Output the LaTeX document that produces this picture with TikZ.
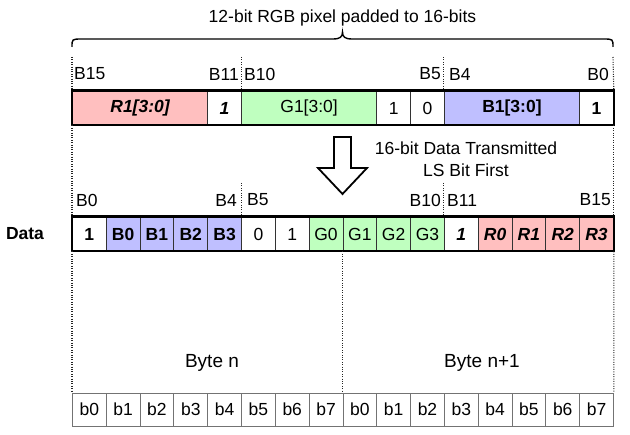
\documentclass[tikz,border=0pt]{standalone}
\usepackage{fontspec}
\setmainfont{Liberation Sans}
\definecolor{pnk}{RGB}{255,191,191}
\definecolor{grn}{RGB}{191,255,191}
\definecolor{blu}{RGB}{191,191,255}
\begin{document}
\fontsize{17.5}{22}\selectfont
\begin{tikzpicture}[x=1pt,y=-1pt,
  cell/.style={draw=black!80, line width=0.8pt, minimum height=34pt, minimum width=33.8125pt, inner sep=0pt, anchor=west},
  bcell/.style={draw=black!55, line width=0.9pt, minimum height=33pt, minimum width=33.8125pt, inner sep=0pt, anchor=west},
  lbl/.style={inner sep=0pt},
  frame/.style={draw=black, line width=2.2pt},
  guide/.style={draw=black!85, line width=1.1pt, dash pattern=on 1pt off 1.4pt},
  bi/.style={font=\bfseries\itshape},
  bf/.style={font=\bfseries}]
\useasboundingbox (0,0) rectangle (630,435);

% title and brace
\node[lbl] (title) at (342.5,17.5) {12-bit RGB pixel padded to 16-bits};
\coordinate (brL) at (72,47);
\coordinate (brT) at (342.5,32);
\coordinate (brR) at (613,47);
\draw[line width=1.4pt] (brL) .. controls (72,39) and (72,39) .. (82,39) -- (333,39)
  .. controls (340,39) and (342.5,37) .. (brT)
  .. controls (342.5,37) and (345,39) .. (352,39) -- (603,39)
  .. controls (613,39) and (613,39) .. (brR);

% top row
\node[cell, fill=pnk, minimum width=135.25pt, bi] (t0) at (72,108) {R1[3:0]};
\node[cell, bi] (t1) at (207.25,108) {1};
\node[cell, fill=grn, minimum width=135.25pt] (t2) at (241.0625,108) {G1[3:0]};
\node[cell] (t3) at (376.3125,108) {1};
\node[cell] (t4) at (410.125,108) {0};
\node[cell, fill=blu, minimum width=135.25pt, bf] (t5) at (443.9375,108) {B1[3:0]};
\node[cell, bf] (t6) at (579.1875,108) {1};
\draw[frame] (t0.north west) rectangle (t6.south east);

% top labels
\node[lbl, anchor=west] (l15) at (74,74) {B15};
\node[lbl, anchor=east] (l11) at (239,74) {B11};
\node[lbl, anchor=west] (l10) at (244,74) {B10};
\node[lbl, anchor=east] (l5) at (441,74) {B5};
\node[lbl, anchor=west] (l4) at (449,74) {B4};
\node[lbl, anchor=east] (l0) at (609,74) {B0};

% arrow and caption
\draw[line width=1.8pt, fill=white, line join=miter] (334,137) -- (351,137) -- (351,168) -- (367,168) -- (342.5,194) -- (318,168) -- (334,168) -- cycle;
\node[lbl, align=center] (cap) at (466,159) {16-bit Data Transmitted\\LS Bit First};

% data row
\node[lbl, bf] (dlab) at (25,234) {Data};
\foreach \t/\c/\f [count=\i from 0] in
  {1/white/\bfseries, B0/blu/\bfseries, B1/blu/\bfseries, B2/blu/\bfseries, B3/blu/\bfseries,
   0/white/\mdseries, 1/white/\mdseries, G0/grn/\mdseries, G1/grn/\mdseries, G2/grn/\mdseries, G3/grn/\mdseries,
   1/white/\bfseries\itshape, R0/pnk/\bfseries\itshape, R1/pnk/\bfseries\itshape, R2/pnk/\bfseries\itshape, R3/pnk/\bfseries\itshape}
  \node[cell, fill=\c, font=\f] (d\i) at ({72+\i*33.8125},234) {\t};
\draw[frame] (d0.north west) rectangle (d15.south east);

% data labels
\node[lbl, anchor=west] (m0) at (76,200) {B0};
\node[lbl, anchor=east] (m4) at (237,200) {B4};
\node[lbl, anchor=west] (m5) at (247,200) {B5};
\node[lbl, anchor=east] (m10) at (441,200) {B10};
\node[lbl, anchor=west] (m11) at (447,200) {B11};
\node[lbl, anchor=east] (m15) at (611,200) {B15};

% bottom row
\foreach \i in {0,...,15}{
  \pgfmathtruncatemacro\k{mod(\i,8)}
  \node[bcell] (b\i) at ({72+\i*33.8125},409.5) {b\k};
}
\node[lbl, font=\fontsize{19}{22}\selectfont] (byn) at (212,363) {Byte n};
\node[lbl, font=\fontsize{19}{22}\selectfont] (byn1) at (482,363) {Byte n+1};

% guides
\coordinate (gL) at (72,57);
\coordinate (gR) at (613,57);
\coordinate (gA) at (241.0625,57);
\coordinate (gB) at (443.9375,57);
\coordinate (gC) at (241.0625,183);
\coordinate (gD) at (443.9375,183);
\draw[guide] (gL) -- (t0.north west);
\draw[guide] (t0.south west) -- (d0.north west);
\draw[guide] (d0.south west) -- (b0.north west);
\draw[guide] (gR) -- (t6.north east);
\draw[guide] (t6.south east) -- (d15.north east);
\draw[guide] (d15.south east) -- (b15.north east);
\draw[guide] (gA) -- (t2.north west);
\draw[guide] (gB) -- (t5.north west);
\draw[guide] (gC) -- (d5.north west);
\draw[guide] (gD) -- (d11.north west);
\draw[guide] (d8.south west) -- (b8.north west);
\end{tikzpicture}
\end{document}
